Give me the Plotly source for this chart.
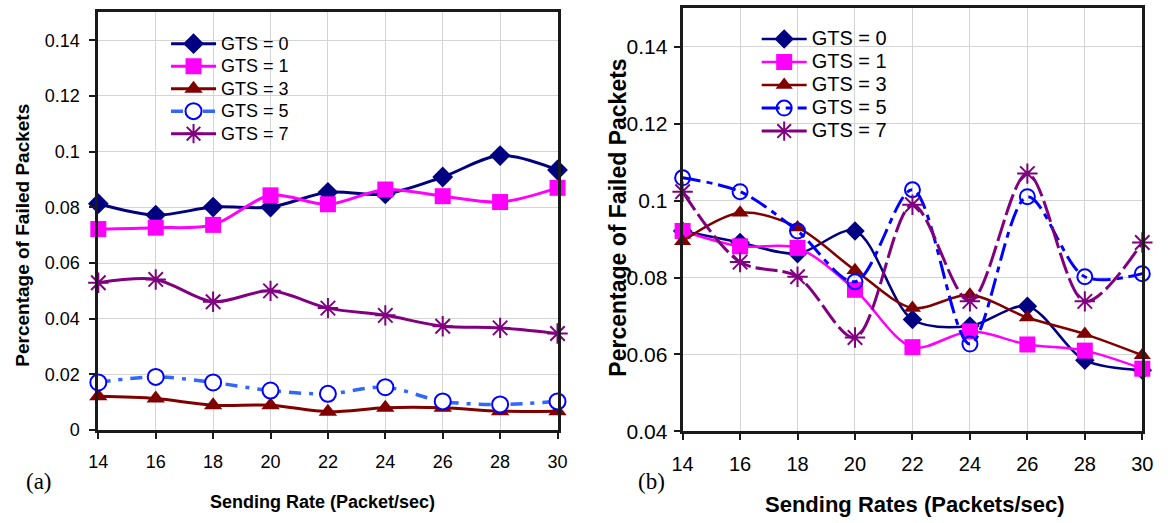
import plotly.graph_objects as go

# ---------------- data ----------------
rates = [14, 16, 18, 20, 22, 24, 26, 28, 30]
names = ["GTS = 0", "GTS = 1", "GTS = 3", "GTS = 5", "GTS = 7"]

# panel (a)
a_gts0 = [0.0813, 0.0772, 0.0801, 0.0801, 0.0854, 0.0848, 0.0909, 0.0986, 0.0934]
a_gts1 = [0.0722, 0.0727, 0.0737, 0.0843, 0.0811, 0.0864, 0.0840, 0.0819, 0.0870]
a_gts3 = [0.0121, 0.0113, 0.0089, 0.0089, 0.0066, 0.0080, 0.0080, 0.0068, 0.0068]
a_gts5 = [0.0171, 0.0191, 0.0171, 0.0142, 0.0130, 0.0154, 0.0103, 0.0092, 0.0103]
a_gts7 = [0.0529, 0.0541, 0.0461, 0.0500, 0.0438, 0.0412, 0.0373, 0.0367, 0.0347]

# panel (b)
b_gts0 = [0.0921, 0.0891, 0.0862, 0.0921, 0.0691, 0.0674, 0.0725, 0.0585, 0.0559]
b_gts1 = [0.0921, 0.0881, 0.0877, 0.0768, 0.0619, 0.0660, 0.0626, 0.0610, 0.0563]
b_gts3 = [0.0894, 0.0968, 0.0930, 0.0819, 0.0721, 0.0755, 0.0696, 0.0653, 0.0598]
b_gts5 = [0.1059, 0.1023, 0.0921, 0.0789, 0.1028, 0.0627, 0.1010, 0.0802, 0.0810]
b_gts7 = [0.1023, 0.0840, 0.0802, 0.0644, 0.0989, 0.0738, 0.1070, 0.0738, 0.0891]

a_yticks = [0, 0.02, 0.04, 0.06, 0.08, 0.1, 0.12, 0.14]
a_yticktext = ["0", "0.02", "0.04", "0.06", "0.08", "0.1", "0.12", "0.14"]
b_yticks = [0.04, 0.06, 0.08, 0.1, 0.12, 0.14]
b_yticktext = ["0.04", "0.06", "0.08", "0.1", "0.12", "0.14"]

# ---------------- layout helpers ----------------
W, H = 1168, 523
def fx(x):
    return x / W
def fy(y):
    return 1 - y / H

FONT = "Arial, Liberation Sans, sans-serif"
SERIF = "Times New Roman, Liberation Serif, serif"

fig = go.Figure()

a_styles = [
    dict(color="#000080", symbol="diamond", size=16, fill="#000080", mline="#000080", dash="solid", width=3),
    dict(color="#FF00FF", symbol="square", size=16, fill="#FF00FF", mline="#FF00FF", dash="solid", width=3),
    dict(color="#800000", symbol="triangle-up", size=16, fill="#800000", mline="#800000", dash="solid", width=3),
    dict(color="#3366FF", symbol="circle", size=16, fill="#FFFFFF", mline="#0000FF", dash="12px,8px,4px,8px", width=3.5),
    dict(color="#800080", symbol="asterisk-open", size=17, fill="#800080", mline="#800080", dash="solid", width=3),
]
b_styles = [
    dict(color="#000080", symbol="diamond", size=15, fill="#000080", mline="#000080", dash="solid", width=2.5),
    dict(color="#FF00FF", symbol="square", size=16, fill="#FF00FF", mline="#FF00FF", dash="solid", width=2.5),
    dict(color="#800000", symbol="triangle-up", size=15, fill="#800000", mline="#800000", dash="solid", width=2.5),
    dict(color="#0000FF", symbol="circle", size=15, fill="rgba(255,255,255,0)", mline="#0000FF", dash="18px,6px,6px,6px", width=3),
    dict(color="#800080", symbol="asterisk-open", size=17, fill="#800080", mline="#800080", dash="22px,5px", width=3),
]

a_data = [a_gts0, a_gts1, a_gts3, a_gts5, a_gts7]
b_data = [b_gts0, b_gts1, b_gts3, b_gts5, b_gts7]

def label(name, size):
    return '<span style="font-size:%dpx">%s</span>' % (size, name)

for name, vals, st in zip(names, a_data, a_styles):
    fig.add_trace(go.Scatter(
        x=rates, y=vals, name=label(name, 18), mode="lines+markers",
        xaxis="x", yaxis="y", legend="legend", cliponaxis=False,
        line=dict(color=st["color"], width=st["width"], dash=st["dash"], shape="spline", smoothing=0.9),
        marker=dict(symbol=st["symbol"], size=st["size"], color=st["fill"],
                    line=dict(color=st["mline"], width=2 if st["symbol"] in ("circle", "asterisk-open") else 0)),
    ))

for name, vals, st in zip(names, b_data, b_styles):
    fig.add_trace(go.Scatter(
        x=rates, y=vals, name=label(name, 20), mode="lines+markers",
        xaxis="x2", yaxis="y2", legend="legend2", cliponaxis=False,
        line=dict(color=st["color"], width=st["width"], dash=st["dash"], shape="spline", smoothing=0.9),
        marker=dict(symbol=st["symbol"], size=st["size"], color=st["fill"],
                    line=dict(color=st["mline"], width=2 if st["symbol"] in ("circle", "asterisk-open") else 0)),
    ))

axis_common = dict(
    showgrid=True, gridcolor="#D4D4D4", gridwidth=1,
    showline=True, linecolor="#1A1A1A", linewidth=3, mirror=True,
    ticks="outside", ticklen=6, tickcolor="#1A1A1A", tickwidth=1.5,
    zeroline=False,
)

fig.update_layout(
    width=W, height=H,
    margin=dict(l=0, r=0, t=0, b=0),
    paper_bgcolor="white", plot_bgcolor="white",
    font=dict(family=FONT, color="black"),
    xaxis=dict(domain=[fx(89), fx(557)], range=[14, 30], anchor="y",
               tickvals=rates, tickfont=dict(size=18), ticklabelstandoff=7, **axis_common),
    yaxis=dict(domain=[fy(439.3), fy(12.7)], range=[0, 0.15], anchor="x",
               tickvals=a_yticks, ticktext=a_yticktext, tickfont=dict(size=18),
               ticklabelstandoff=6, **axis_common),
    xaxis2=dict(domain=[fx(684.5), fx(1153)], range=[14, 30], anchor="y2",
                tickvals=rates, tickfont=dict(size=20), ticklabelstandoff=7, **axis_common),
    yaxis2=dict(domain=[fy(440.7), fy(8.3)], range=[0.04, 0.15], anchor="x2",
                tickvals=b_yticks, ticktext=b_yticktext, tickfont=dict(size=21),
                ticklabelstandoff=2, **axis_common),
    legend=dict(x=fx(158), y=fy(28), xanchor="left", yanchor="top",
                bgcolor="rgba(0,0,0,0)", font=dict(size=15, family=FONT),
                itemwidth=45, tracegroupgap=0),
    legend2=dict(x=fx(760), y=fy(23), xanchor="left", yanchor="top",
                 bgcolor="rgba(0,0,0,0)", font=dict(size=15.4, family=FONT),
                 itemwidth=45, tracegroupgap=0),
    showlegend=True,
    annotations=[
        dict(text="<b>Percentage of Failed Packets</b>", x=fx(12), y=fy(240), xref="paper", yref="paper",
             textangle=-90, showarrow=False, font=dict(size=19, family=FONT), xanchor="center", yanchor="middle"),
        dict(text="<b>Sending Rate (Packet/sec)</b>", x=fx(317), y=fy(513), xref="paper", yref="paper",
             showarrow=False, font=dict(size=18, family=FONT), xanchor="center", yanchor="middle"),
        dict(text="(a)", x=fx(29), y=fy(492), xref="paper", yref="paper",
             showarrow=False, font=dict(size=23, family=SERIF), xanchor="center", yanchor="middle"),
        dict(text="<b>Percentage of Failed Packets</b>", x=fx(619), y=fy(222), xref="paper", yref="paper",
             textangle=-90, showarrow=False, font=dict(size=23, family=FONT), xanchor="center", yanchor="middle"),
        dict(text="<b>Sending Rates (Packets/sec)</b>", x=fx(921), y=fy(515), xref="paper", yref="paper",
             showarrow=False, font=dict(size=22, family=FONT), xanchor="center", yanchor="middle"),
        dict(text="(b)", x=fx(653), y=fy(492), xref="paper", yref="paper",
             showarrow=False, font=dict(size=23, family=SERIF), xanchor="center", yanchor="middle"),
    ],
)

fig.write_html("out.html", config={"displayModeBar": False},
               post_script="document.body.style.margin='0px';document.body.style.overflow='hidden';")
